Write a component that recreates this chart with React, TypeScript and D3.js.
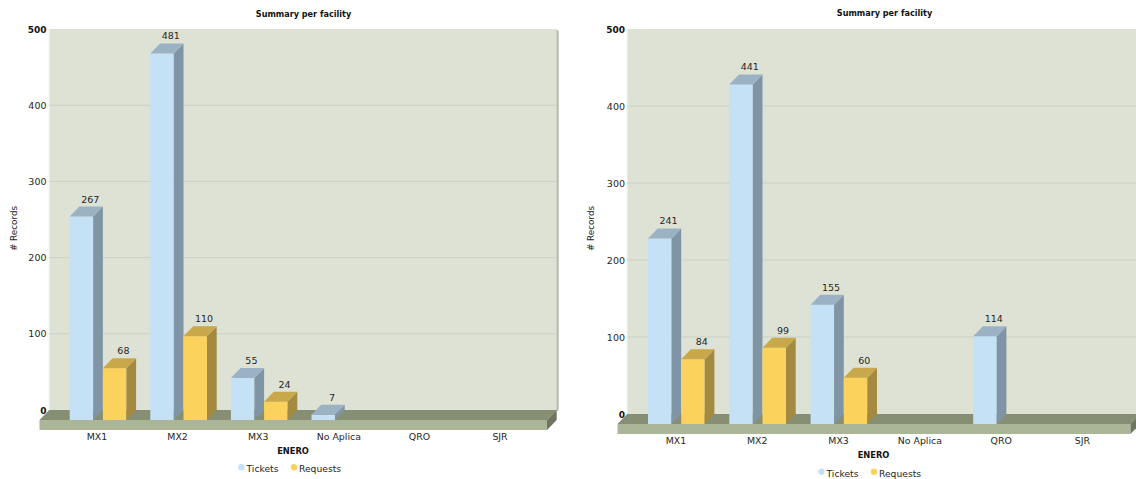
import React from "react";
import * as d3 from "d3";

const categories = ["MX1", "MX2", "MX3", "No Aplica", "QRO", "SJR"];
const seriesNames = ["Tickets", "Requests"];
const yTicks = [0, 100, 200, 300, 400, 500];

const ticketsA = [267, 481, 55, 7, null, null];
const requestsA = [68, 110, 24, null, null, null];
const ticketsB = [241, 441, 155, null, 114, null];
const requestsB = [84, 99, 60, null, null, null];

const FONT = "Verdana, 'DejaVu Sans', sans-serif";
const INK = "#262626";

const barColors = [
  { front: "#C4E1F5", top: "#9BB2C4", side: "#7F95A5" },
  { front: "#FAD25C", top: "#C9A84A", side: "#A38A40" },
];

type PanelProps = {
  tickets: (number | null)[];
  requests: (number | null)[];
  floorLeft: number;
  floorRight: number;
  baseY: number;
  bandStart: number;
  step: number;
  barOffset: number;
  tickX: number;
  axisTitleX: number;
  titleX: number;
  titleY: number;
  xTitleX: number;
  xTitleY: number;
  xLabelY: number;
  legendX: number;
  legendY: number;
};

function Panel(p: PanelProps) {
  const dx = 9.7;
  const dy = 10;
  const wallRight = p.floorRight + dx;

  const y = d3.scaleLinear().domain([0, 500]).range([p.baseY, 39]);
  const x = d3
    .scaleBand<string>()
    .domain(categories)
    .range([p.bandStart, p.bandStart + p.step * categories.length]);
  const inner = d3
    .scaleBand<string>()
    .domain(seriesNames)
    .range([p.barOffset, p.barOffset + 66.4]);
  const barW = inner.bandwidth() - dx;

  const wallLeft = p.floorLeft + dx;
  const wallTop = y(500) - dy;
  const floorBack = p.baseY - dy;
  const series = [p.tickets, p.requests];

  return (
    <g fontFamily={FONT}>
      <text x={p.titleX} y={p.titleY} textAnchor="middle" fontSize={8.1} fontWeight="bold" fill="#111">
        Summary per facility
      </text>

      {/* back wall with its soft right-hand edge */}
      <rect x={wallLeft + 2} y={wallTop + 1} width={wallRight - wallLeft} height={floorBack - wallTop} rx={2} fill="#B4BAAA" />
      <rect x={wallLeft} y={wallTop} width={wallRight - wallLeft} height={floorBack - wallTop} fill="#DDE2D4" />
      <line x1={wallLeft} x2={wallLeft} y1={wallTop} y2={floorBack} stroke="#EEF1E9" strokeWidth={1} />

      {yTicks.slice(1, -1).map((t) => (
        <line key={t} x1={wallLeft} x2={wallRight} y1={y(t) - dy} y2={y(t) - dy} stroke="#CBD1C8" strokeWidth={1} />
      ))}

      {/* floor: top, front and right faces */}
      <polygon
        points={`${p.floorLeft},${p.baseY} ${p.floorRight},${p.baseY} ${wallRight},${floorBack} ${wallLeft},${floorBack}`}
        fill="#868E74"
      />
      <rect x={p.floorLeft} y={p.baseY} width={p.floorRight - p.floorLeft} height={dy} fill="#ABB699" />
      <polygon
        points={`${p.floorRight},${p.baseY} ${wallRight},${floorBack} ${wallRight},${floorBack + dy} ${p.floorRight},${p.baseY + dy}`}
        fill="#6F7660"
      />

      {yTicks.map((t) => (
        <text
          key={t}
          x={p.tickX}
          y={y(t) - dy + 3.5}
          textAnchor="end"
          fontSize={t === 0 || t === 500 ? 9 : 9.5}
          fontWeight={t === 0 || t === 500 ? "bold" : "normal"}
          fill={t === 0 || t === 500 ? "#111" : INK}
        >
          {t}
        </text>
      ))}

      <text
        transform={`translate(${p.axisTitleX},228.5) rotate(-90)`}
        textAnchor="middle"
        fontSize={8.8}
        fill={INK}
      >
        # Records
      </text>

      {categories.map((c, ci) =>
        seriesNames.map((s, si) => {
          const v = series[si][ci];
          if (v === null) return null;
          const x0 = (x(c) as number) + (inner(s) as number);
          const x1 = x0 + barW;
          const top = y(v);
          const col = barColors[si];
          return (
            <g key={c + s}>
              <rect x={x0} y={top} width={barW} height={p.baseY - top} fill={col.front} />
              <polygon
                points={`${x1},${top} ${x1 + dx},${top - dy} ${x1 + dx},${p.baseY - dy} ${x1},${p.baseY}`}
                fill={col.side}
              />
              <polygon
                points={`${x0},${top} ${x1},${top} ${x1 + dx},${top - dy} ${x0 + dx},${top - dy}`}
                fill={col.top}
              />
              <text x={x0 + 20.5} y={top - 14} textAnchor="middle" fontSize={9.5} fill={INK}>
                {v}
              </text>
            </g>
          );
        })
      )}

      {categories.map((c) => (
        <text
          key={c}
          x={(x(c) as number) + x.bandwidth() / 2}
          y={p.xLabelY}
          textAnchor="middle"
          fontSize={9.4}
          fill={INK}
        >
          {c}
        </text>
      ))}

      <text x={p.xTitleX} y={p.xTitleY} textAnchor="middle" fontSize={8.3} fontWeight="bold" fill="#111">
        ENERO
      </text>

      {seriesNames.map((s, i) => {
        const lx = p.legendX + i * 52.5;
        return (
          <g key={s}>
            <circle cx={lx} cy={p.legendY - 1.2} r={3.2} fill={barColors[i].front} />
            <text x={lx + 5} y={p.legendY + 3.5} fontSize={9.2} fill={INK}>
              {s}
            </text>
          </g>
        );
      })}
    </g>
  );
}

export default function App() {
  return (
    <svg
      width={1136}
      height={479}
      viewBox="0 0 1136 479"
      style={{ position: "absolute", left: 0, top: 0, display: "block", background: "#fff" }}
    >
      <Panel
        tickets={ticketsA}
        requests={requestsA}
        floorLeft={39.5}
        floorRight={547}
        baseY={420}
        bandStart={56.7}
        step={80.6}
        barOffset={13}
        tickX={46.5}
        axisTitleX={16.5}
        titleX={303.5}
        titleY={16.5}
        xTitleX={293}
        xTitleY={454}
        xLabelY={439.5}
        legendX={241.5}
        legendY={468.5}
      />
      <Panel
        tickets={ticketsB}
        requests={requestsB}
        floorLeft={617.5}
        floorRight={1130.5}
        baseY={424}
        bandStart={635.3}
        step={81.3}
        barOffset={12.7}
        tickX={625}
        axisTitleX={594}
        titleX={884.5}
        titleY={15.5}
        xTitleX={873.5}
        xTitleY={457.5}
        xLabelY={443.5}
        legendX={821.5}
        legendY={473}
      />
    </svg>
  );
}
